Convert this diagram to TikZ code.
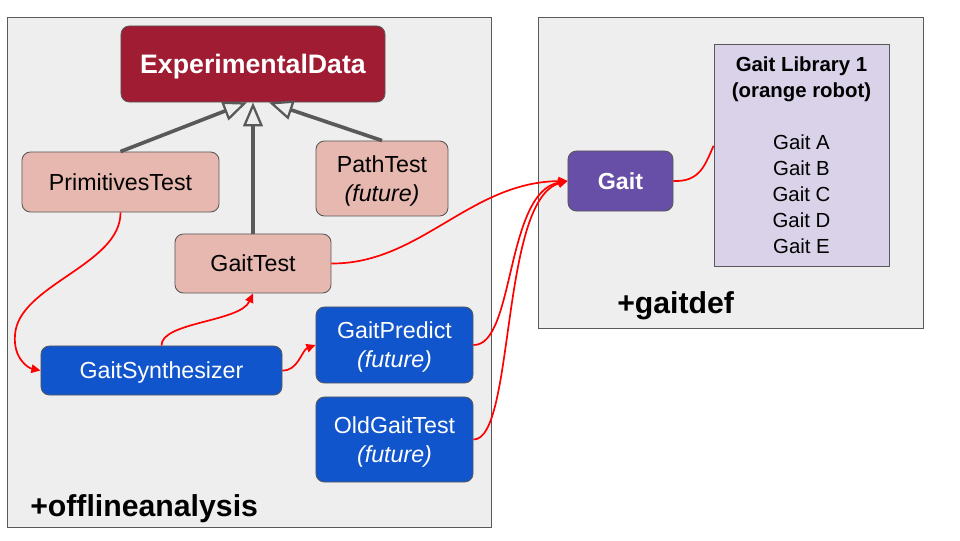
\documentclass[tikz,border=0pt]{standalone}
\usepackage{fontspec}
\setmainfont{Liberation Sans}
\usepackage{xcolor}
\usepackage{tikz}
\usetikzlibrary{positioning,calc,arrows.meta}

\definecolor{dataRed}{HTML}{9F1C33}
\definecolor{testPink}{HTML}{E6B8AF}
\definecolor{toolBlue}{HTML}{1155CC}
\definecolor{gaitPurple}{HTML}{674EA7}
\definecolor{libLilac}{HTML}{D9D2E9}
\definecolor{pkgGray}{HTML}{EEEEEE}
\definecolor{edgeGray}{HTML}{595959}

\begin{document}
\begin{tikzpicture}[
	x=0.025cm, y=-0.025cm,
	every node/.style={font=\fontsize{16.5}{20.5}\selectfont, align=center},
	pkg_box/.style={draw=edgeGray, fill=pkgGray, line width=0.7pt},
	pkg_label/.style={anchor=west, inner sep=0pt, font=\fontsize{21.5}{25}\selectfont\bfseries},
	class_box/.style={
		draw=edgeGray, line width=0.6pt,
		rounded corners=6pt, inner sep=0pt, text depth=0pt
	},
	test_node/.style={class_box, fill=testPink},
	tool_node/.style={class_box, fill=toolBlue, text=white},
	inherit_arrow/.style={
		-{Triangle[open, length=17pt, width=14pt, line width=1.6pt]},
		edgeGray, line width=2.6pt
	},
	red_arrow/.style={-{Triangle[length=6.5pt, width=6pt]}, red, line width=1.2pt},
	red_line/.style={red, line width=1.2pt}
	]
	\useasboundingbox (0,0) rectangle (960,540);
	
	% --- 1. Packages ---
	\draw[pkg_box] (7,17) rectangle (491,527);
	\draw[pkg_box] (538,17) rectangle (923,328);
	\node[pkg_label] (offline_lbl) at (30,509) {+offlineanalysis};
	\node[pkg_label] (gaitdef_lbl) at (617,306) {+gaitdef};
	
	% --- 2. Classes in +offlineanalysis ---
	\node[class_box, fill=dataRed, text=white, minimum width=6.6cm, minimum height=1.9cm,
	font=\fontsize{19}{22}\selectfont\bfseries] (data) at (253,64) {ExperimentalData};
	
	\node[test_node, minimum width=4.925cm, minimum height=1.5cm] (prim) at (120.5,182) {PrimitivesTest};
	\node[test_node, minimum width=3.3cm, minimum height=1.875cm] (path) at (382,178.5) {PathTest\\\textit{(future)}};
	\node[test_node, minimum width=3.9cm, minimum height=1.475cm] (gtest) at (253,263.5) {GaitTest};
	
	\node[tool_node, minimum width=6.025cm, minimum height=1.225cm] (synth) at (161.5,370.5) {GaitSynthesizer};
	\node[tool_node, minimum width=3.925cm, minimum height=1.9cm] (predict) at (394.5,345) {GaitPredict\\\textit{(future)}};
	\node[tool_node, minimum width=3.925cm, minimum height=2.125cm] (oldtest) at (394.5,439.5) {OldGaitTest\\\textit{(future)}};
	
	% --- 3. Classes in +gaitdef ---
	\node[class_box, fill=gaitPurple, text=white, minimum width=2.625cm, minimum height=1.5cm,
	font=\fontsize{16.5}{20.5}\selectfont\bfseries] (gait) at (620.5,181) {Gait};
	
	\node[draw=edgeGray, fill=libLilac, line width=0.6pt, minimum width=4.375cm, minimum height=5.55cm,
	font=\fontsize{14.5}{18.5}\selectfont] (lib) at (801.5,155)
	{\textbf{Gait Library 1}\\\textbf{(orange robot)}\\[18.5pt]Gait A\\Gait B\\Gait C\\Gait D\\Gait E};
	
	% --- 4. Inheritance ---
	\draw[inherit_arrow] (prim.north) -- ($(data.south)+(-6,0)$);
	\draw[inherit_arrow] (gtest.north) -- (data.south);
	\draw[inherit_arrow] (path.north) -- ($(data.south)+(16,0)$);
	
	% --- 5. Red links ---
	\draw[red_arrow] (prim.south) .. controls (121,265) and (18,285) .. (15,335)
	.. controls (13,358) and (28,368) .. (synth.west);
	\draw[red_arrow] (synth.north) .. controls (161,322) and (240,322) .. (gtest.south);
	\draw[red_arrow] (synth.east) .. controls (298,371) and (302,350) .. (predict.west);
	\draw[red_arrow] (gtest.east) .. controls (420,264) and (470,182) .. (gait.west);
	\draw[red_arrow] (predict.east) .. controls (515,346) and (505,192) .. (gait.west);
	\draw[red_arrow] (oldtest.east) .. controls (515,440) and (500,200) .. (gait.west);
	\draw[red_line] (gait.east) .. controls (700,182) and (705,165) .. (lib.174);
	
\end{tikzpicture}
\end{document}
